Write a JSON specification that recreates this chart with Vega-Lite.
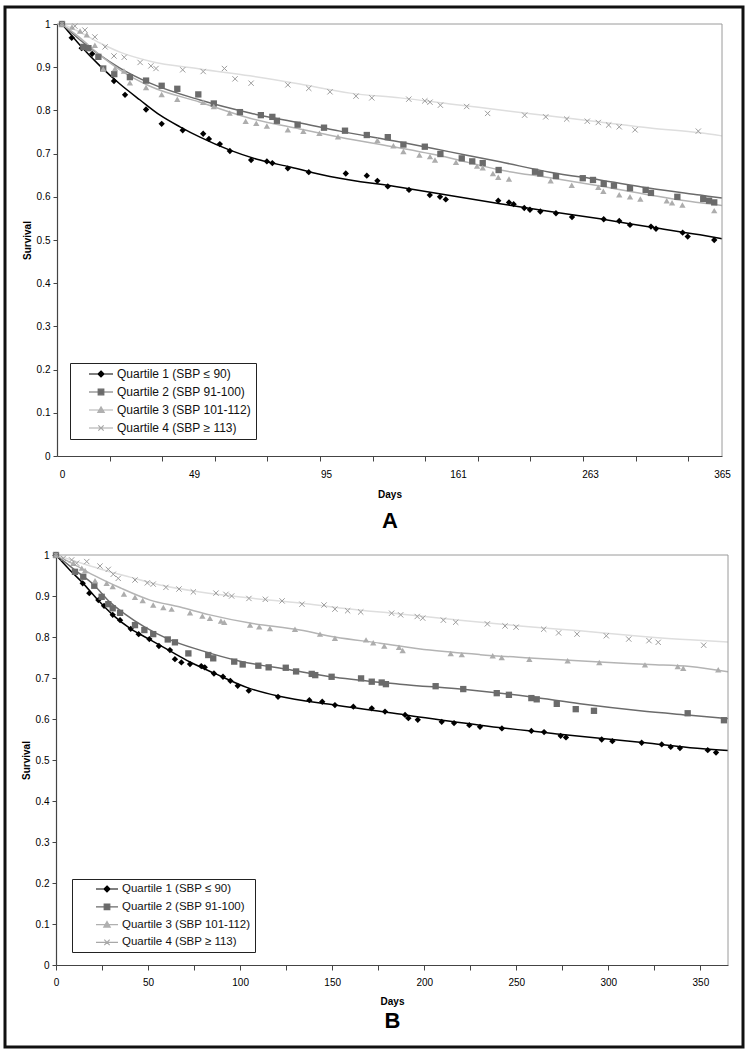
{
"$schema": "https://vega.github.io/schema/vega-lite/v6.json",
"width": 738, "height": 1040,
"autosize": {"type": "none"},
"padding": {"left": 5, "top": 7, "right": 5, "bottom": 3},
"background": "#ffffff",
"config": {
  "view": {"stroke": "#111111", "strokeWidth": 3},
  "font": "Liberation Sans",
  "axis": {"labelFont": "Liberation Sans", "labelFontSize": 10, "labelColor": "#000000", "titleFont": "Liberation Sans", "titleFontSize": 10, "titleFontWeight": "bold", "titleColor": "#000000", "domainColor": "#444444", "tickColor": "#444444", "domainWidth": 1.2, "grid": false, "labelFlush": false, "labelOverlap": false},
  "legend": {"labelFont": "Liberation Sans", "labelColor": "#111111"}
},
"datasets": {
"ptsA": [
{"q":"Q1","d":0,"s":1},{"q":"Q1","d":3.6,"s":0.968},{"q":"Q1","d":7.3,"s":0.944},{"q":"Q1","d":11.2,"s":0.931},{"q":"Q1","d":19.3,"s":0.868},{"q":"Q1","d":23.4,"s":0.836},{"q":"Q1","d":31.2,"s":0.802},{"q":"Q1","d":37.0,"s":0.769},{"q":"Q1","d":44.8,"s":0.754},{"q":"Q1","d":52.2,"s":0.746},{"q":"Q1","d":54.2,"s":0.734},{"q":"Q1","d":58.0,"s":0.722},{"q":"Q1","d":61.5,"s":0.706},{"q":"Q1","d":68.9,"s":0.685},{"q":"Q1","d":74.4,"s":0.682},{"q":"Q1","d":76.3,"s":0.678},{"q":"Q1","d":81.7,"s":0.666},{"q":"Q1","d":89.0,"s":0.657},{"q":"Q1","d":104.9,"s":0.654},{"q":"Q1","d":115.4,"s":0.649},{"q":"Q1","d":120.7,"s":0.637},{"q":"Q1","d":125.9,"s":0.624},{"q":"Q1","d":136.5,"s":0.616},{"q":"Q1","d":146.9,"s":0.604},{"q":"Q1","d":152.0,"s":0.600},{"q":"Q1","d":154.9,"s":0.594},{"q":"Q1","d":192.1,"s":0.591},{"q":"Q1","d":200.4,"s":0.587},{"q":"Q1","d":204.0,"s":0.583},{"q":"Q1","d":212.2,"s":0.574},{"q":"Q1","d":216.6,"s":0.570},{"q":"Q1","d":224.6,"s":0.566},{"q":"Q1","d":236.7,"s":0.562},{"q":"Q1","d":249.1,"s":0.553},{"q":"Q1","d":273.6,"s":0.548},{"q":"Q1","d":285.6,"s":0.544},{"q":"Q1","d":293.9,"s":0.535},{"q":"Q1","d":310.1,"s":0.531},{"q":"Q1","d":314.0,"s":0.526},{"q":"Q1","d":334.6,"s":0.517},{"q":"Q1","d":338.5,"s":0.508},{"q":"Q1","d":359.0,"s":0.500},
{"q":"Q2","d":0,"s":1},{"q":"Q2","d":7.9,"s":0.947},{"q":"Q2","d":9.8,"s":0.944},{"q":"Q2","d":13.5,"s":0.924},{"q":"Q2","d":15.3,"s":0.897},{"q":"Q2","d":19.4,"s":0.884},{"q":"Q2","d":25.2,"s":0.877},{"q":"Q2","d":31.2,"s":0.869},{"q":"Q2","d":37.0,"s":0.857},{"q":"Q2","d":42.8,"s":0.850},{"q":"Q2","d":50.5,"s":0.837},{"q":"Q2","d":55.9,"s":0.816},{"q":"Q2","d":65.0,"s":0.796},{"q":"Q2","d":72.3,"s":0.789},{"q":"Q2","d":76.3,"s":0.785},{"q":"Q2","d":77.9,"s":0.776},{"q":"Q2","d":85.1,"s":0.767},{"q":"Q2","d":94.3,"s":0.760},{"q":"Q2","d":104.5,"s":0.753},{"q":"Q2","d":115.4,"s":0.743},{"q":"Q2","d":125.9,"s":0.738},{"q":"Q2","d":133.7,"s":0.721},{"q":"Q2","d":144.4,"s":0.716},{"q":"Q2","d":152.2,"s":0.699},{"q":"Q2","d":163.9,"s":0.689},{"q":"Q2","d":172.0,"s":0.682},{"q":"Q2","d":180.1,"s":0.678},{"q":"Q2","d":192.4,"s":0.662},{"q":"Q2","d":220.5,"s":0.658},{"q":"Q2","d":224.6,"s":0.654},{"q":"Q2","d":236.7,"s":0.648},{"q":"Q2","d":257.4,"s":0.643},{"q":"Q2","d":265.3,"s":0.639},{"q":"Q2","d":273.6,"s":0.630},{"q":"Q2","d":281.5,"s":0.626},{"q":"Q2","d":293.9,"s":0.620},{"q":"Q2","d":306.0,"s":0.616},{"q":"Q2","d":310.1,"s":0.609},{"q":"Q2","d":330.5,"s":0.600},{"q":"Q2","d":350.5,"s":0.595},{"q":"Q2","d":355.0,"s":0.591},{"q":"Q2","d":359.0,"s":0.587},
{"q":"Q3","d":0,"s":1},{"q":"Q3","d":3.7,"s":0.993},{"q":"Q3","d":6.7,"s":0.984},{"q":"Q3","d":9.2,"s":0.975},{"q":"Q3","d":12.2,"s":0.951},{"q":"Q3","d":15.3,"s":0.896},{"q":"Q3","d":19.7,"s":0.897},{"q":"Q3","d":23.0,"s":0.891},{"q":"Q3","d":25.2,"s":0.864},{"q":"Q3","d":31.2,"s":0.853},{"q":"Q3","d":37.0,"s":0.837},{"q":"Q3","d":42.8,"s":0.826},{"q":"Q3","d":52.2,"s":0.819},{"q":"Q3","d":55.9,"s":0.809},{"q":"Q3","d":61.4,"s":0.794},{"q":"Q3","d":67.0,"s":0.775},{"q":"Q3","d":70.7,"s":0.770},{"q":"Q3","d":74.4,"s":0.764},{"q":"Q3","d":81.7,"s":0.755},{"q":"Q3","d":87.1,"s":0.752},{"q":"Q3","d":92.7,"s":0.747},{"q":"Q3","d":101.0,"s":0.739},{"q":"Q3","d":120.7,"s":0.731},{"q":"Q3","d":128.7,"s":0.718},{"q":"Q3","d":133.7,"s":0.705},{"q":"Q3","d":141.7,"s":0.697},{"q":"Q3","d":147.0,"s":0.693},{"q":"Q3","d":149.5,"s":0.685},{"q":"Q3","d":160.0,"s":0.680},{"q":"Q3","d":175.7,"s":0.671},{"q":"Q3","d":180.1,"s":0.667},{"q":"Q3","d":188.0,"s":0.654},{"q":"Q3","d":192.1,"s":0.645},{"q":"Q3","d":200.4,"s":0.641},{"q":"Q3","d":232.6,"s":0.637},{"q":"Q3","d":248.9,"s":0.627},{"q":"Q3","d":269.4,"s":0.622},{"q":"Q3","d":273.3,"s":0.613},{"q":"Q3","d":285.6,"s":0.605},{"q":"Q3","d":293.9,"s":0.600},{"q":"Q3","d":301.9,"s":0.595},{"q":"Q3","d":322.3,"s":0.591},{"q":"Q3","d":326.4,"s":0.586},{"q":"Q3","d":334.4,"s":0.581},{"q":"Q3","d":359.0,"s":0.568},
{"q":"Q4","d":0,"s":1},{"q":"Q4","d":4.8,"s":0.995},{"q":"Q4","d":8.5,"s":0.986},{"q":"Q4","d":12.2,"s":0.970},{"q":"Q4","d":16.0,"s":0.947},{"q":"Q4","d":19.3,"s":0.926},{"q":"Q4","d":23.1,"s":0.923},{"q":"Q4","d":29.0,"s":0.911},{"q":"Q4","d":33.0,"s":0.903},{"q":"Q4","d":34.9,"s":0.897},{"q":"Q4","d":44.8,"s":0.894},{"q":"Q4","d":52.2,"s":0.890},{"q":"Q4","d":59.6,"s":0.897},{"q":"Q4","d":63.3,"s":0.873},{"q":"Q4","d":68.9,"s":0.863},{"q":"Q4","d":81.7,"s":0.859},{"q":"Q4","d":89.0,"s":0.851},{"q":"Q4","d":97.0,"s":0.843},{"q":"Q4","d":110.0,"s":0.833},{"q":"Q4","d":117.9,"s":0.829},{"q":"Q4","d":136.4,"s":0.826},{"q":"Q4","d":144.4,"s":0.822},{"q":"Q4","d":147.0,"s":0.819},{"q":"Q4","d":152.2,"s":0.812},{"q":"Q4","d":167.7,"s":0.809},{"q":"Q4","d":183.9,"s":0.793},{"q":"Q4","d":212.5,"s":0.789},{"q":"Q4","d":228.8,"s":0.785},{"q":"Q4","d":245.0,"s":0.780},{"q":"Q4","d":260.9,"s":0.775},{"q":"Q4","d":269.4,"s":0.772},{"q":"Q4","d":277.4,"s":0.766},{"q":"Q4","d":285.6,"s":0.762},{"q":"Q4","d":297.8,"s":0.755},{"q":"Q4","d":346.7,"s":0.752}
],
"fitA": [
{"q":"Q1","d":0,"s":1},{"q":"Q1","d":6.7,"s":0.951},{"q":"Q1","d":14.1,"s":0.903},{"q":"Q1","d":21.5,"s":0.861},{"q":"Q1","d":29.0,"s":0.824},{"q":"Q1","d":36.4,"s":0.789},{"q":"Q1","d":43.8,"s":0.762},{"q":"Q1","d":51.1,"s":0.738},{"q":"Q1","d":61.5,"s":0.708},{"q":"Q1","d":72.0,"s":0.685},{"q":"Q1","d":82.5,"s":0.669},{"q":"Q1","d":97.0,"s":0.647},{"q":"Q1","d":132.0,"s":0.622},{"q":"Q1","d":157.0,"s":0.603},{"q":"Q1","d":193.5,"s":0.584},{"q":"Q1","d":232.1,"s":0.566},{"q":"Q1","d":270.7,"s":0.549},{"q":"Q1","d":309.4,"s":0.530},{"q":"Q1","d":348.0,"s":0.512},{"q":"Q1","d":365,"s":0.503},
{"q":"Q2","d":0,"s":1},{"q":"Q2","d":6.7,"s":0.963},{"q":"Q2","d":14.1,"s":0.928},{"q":"Q2","d":21.5,"s":0.898},{"q":"Q2","d":32.7,"s":0.863},{"q":"Q2","d":51.1,"s":0.824},{"q":"Q2","d":68.5,"s":0.794},{"q":"Q2","d":85.9,"s":0.771},{"q":"Q2","d":102.0,"s":0.752},{"q":"Q2","d":132.0,"s":0.727},{"q":"Q2","d":157.0,"s":0.704},{"q":"Q2","d":193.5,"s":0.681},{"q":"Q2","d":232.1,"s":0.657},{"q":"Q2","d":270.7,"s":0.639},{"q":"Q2","d":309.4,"s":0.620},{"q":"Q2","d":348.0,"s":0.604},{"q":"Q2","d":365,"s":0.597},
{"q":"Q3","d":0,"s":1},{"q":"Q3","d":6.7,"s":0.968},{"q":"Q3","d":14.1,"s":0.928},{"q":"Q3","d":21.5,"s":0.894},{"q":"Q3","d":32.7,"s":0.856},{"q":"Q3","d":51.1,"s":0.819},{"q":"Q3","d":68.5,"s":0.782},{"q":"Q3","d":85.9,"s":0.757},{"q":"Q3","d":102.0,"s":0.738},{"q":"Q3","d":132.0,"s":0.713},{"q":"Q3","d":157.0,"s":0.690},{"q":"Q3","d":193.5,"s":0.662},{"q":"Q3","d":232.1,"s":0.644},{"q":"Q3","d":270.7,"s":0.625},{"q":"Q3","d":309.4,"s":0.604},{"q":"Q3","d":348.0,"s":0.586},{"q":"Q3","d":365,"s":0.580},
{"q":"Q4","d":0,"s":1},{"q":"Q4","d":6.7,"s":0.981},{"q":"Q4","d":14.1,"s":0.956},{"q":"Q4","d":21.5,"s":0.935},{"q":"Q4","d":32.7,"s":0.914},{"q":"Q4","d":51.1,"s":0.896},{"q":"Q4","d":68.5,"s":0.880},{"q":"Q4","d":85.9,"s":0.861},{"q":"Q4","d":107.0,"s":0.840},{"q":"Q4","d":132.0,"s":0.829},{"q":"Q4","d":157.0,"s":0.815},{"q":"Q4","d":193.5,"s":0.801},{"q":"Q4","d":232.1,"s":0.787},{"q":"Q4","d":270.7,"s":0.773},{"q":"Q4","d":309.4,"s":0.759},{"q":"Q4","d":348.0,"s":0.748},{"q":"Q4","d":365,"s":0.741}
],
"ptsB": [
{"q":"Q1","d":0,"s":1},{"q":"Q1","d":14.5,"s":0.931},{"q":"Q1","d":18.1,"s":0.907},{"q":"Q1","d":23.0,"s":0.890},{"q":"Q1","d":26.1,"s":0.876},{"q":"Q1","d":30.8,"s":0.854},{"q":"Q1","d":34.8,"s":0.841},{"q":"Q1","d":40.6,"s":0.820},{"q":"Q1","d":44.9,"s":0.807},{"q":"Q1","d":50.7,"s":0.795},{"q":"Q1","d":55.9,"s":0.778},{"q":"Q1","d":61.9,"s":0.768},{"q":"Q1","d":64.6,"s":0.746},{"q":"Q1","d":68.1,"s":0.738},{"q":"Q1","d":72.8,"s":0.734},{"q":"Q1","d":78.9,"s":0.729},{"q":"Q1","d":80.8,"s":0.726},{"q":"Q1","d":85.8,"s":0.711},{"q":"Q1","d":90.7,"s":0.703},{"q":"Q1","d":94.7,"s":0.693},{"q":"Q1","d":98.7,"s":0.681},{"q":"Q1","d":104.7,"s":0.669},{"q":"Q1","d":120.6,"s":0.654},{"q":"Q1","d":137.6,"s":0.646},{"q":"Q1","d":144.6,"s":0.642},{"q":"Q1","d":151.5,"s":0.634},{"q":"Q1","d":161.5,"s":0.630},{"q":"Q1","d":171.5,"s":0.626},{"q":"Q1","d":178.7,"s":0.618},{"q":"Q1","d":189.6,"s":0.610},{"q":"Q1","d":191.4,"s":0.602},{"q":"Q1","d":196.5,"s":0.598},{"q":"Q1","d":209.5,"s":0.593},{"q":"Q1","d":216.2,"s":0.590},{"q":"Q1","d":224.5,"s":0.585},{"q":"Q1","d":230.3,"s":0.581},{"q":"Q1","d":242.2,"s":0.577},{"q":"Q1","d":258.2,"s":0.571},{"q":"Q1","d":265.1,"s":0.568},{"q":"Q1","d":274.1,"s":0.559},{"q":"Q1","d":277.0,"s":0.555},{"q":"Q1","d":296.4,"s":0.550},{"q":"Q1","d":302.2,"s":0.546},{"q":"Q1","d":318.1,"s":0.542},{"q":"Q1","d":329.0,"s":0.538},{"q":"Q1","d":333.9,"s":0.532},{"q":"Q1","d":338.9,"s":0.529},{"q":"Q1","d":354.0,"s":0.524},{"q":"Q1","d":358.5,"s":0.518},
{"q":"Q2","d":0,"s":1},{"q":"Q2","d":10.3,"s":0.959},{"q":"Q2","d":14.8,"s":0.947},{"q":"Q2","d":20.8,"s":0.925},{"q":"Q2","d":24.8,"s":0.898},{"q":"Q2","d":28.4,"s":0.880},{"q":"Q2","d":30.8,"s":0.870},{"q":"Q2","d":34.8,"s":0.859},{"q":"Q2","d":42.9,"s":0.829},{"q":"Q2","d":48.0,"s":0.817},{"q":"Q2","d":52.8,"s":0.807},{"q":"Q2","d":60.7,"s":0.794},{"q":"Q2","d":64.6,"s":0.787},{"q":"Q2","d":71.9,"s":0.760},{"q":"Q2","d":82.7,"s":0.756},{"q":"Q2","d":85.4,"s":0.748},{"q":"Q2","d":96.8,"s":0.740},{"q":"Q2","d":101.4,"s":0.733},{"q":"Q2","d":109.9,"s":0.730},{"q":"Q2","d":115.5,"s":0.726},{"q":"Q2","d":124.8,"s":0.725},{"q":"Q2","d":130.4,"s":0.716},{"q":"Q2","d":138.9,"s":0.710},{"q":"Q2","d":140.8,"s":0.707},{"q":"Q2","d":149.7,"s":0.703},{"q":"Q2","d":165.7,"s":0.699},{"q":"Q2","d":171.5,"s":0.691},{"q":"Q2","d":176.9,"s":0.689},{"q":"Q2","d":179.2,"s":0.685},{"q":"Q2","d":206.2,"s":0.680},{"q":"Q2","d":221.2,"s":0.673},{"q":"Q2","d":239.4,"s":0.663},{"q":"Q2","d":246.0,"s":0.659},{"q":"Q2","d":258.2,"s":0.651},{"q":"Q2","d":261.1,"s":0.648},{"q":"Q2","d":272.0,"s":0.637},{"q":"Q2","d":282.3,"s":0.624},{"q":"Q2","d":292.2,"s":0.620},{"q":"Q2","d":343.1,"s":0.614},{"q":"Q2","d":362.8,"s":0.597},
{"q":"Q3","d":0,"s":1},{"q":"Q3","d":9.4,"s":0.980},{"q":"Q3","d":14.0,"s":0.968},{"q":"Q3","d":15.8,"s":0.962},{"q":"Q3","d":21.2,"s":0.937},{"q":"Q3","d":27.5,"s":0.931},{"q":"Q3","d":30.8,"s":0.923},{"q":"Q3","d":36.9,"s":0.905},{"q":"Q3","d":42.9,"s":0.897},{"q":"Q3","d":47.1,"s":0.889},{"q":"Q3","d":52.8,"s":0.878},{"q":"Q3","d":58.3,"s":0.872},{"q":"Q3","d":62.8,"s":0.868},{"q":"Q3","d":72.8,"s":0.859},{"q":"Q3","d":79.5,"s":0.851},{"q":"Q3","d":83.6,"s":0.846},{"q":"Q3","d":89.6,"s":0.839},{"q":"Q3","d":91.4,"s":0.836},{"q":"Q3","d":105.4,"s":0.829},{"q":"Q3","d":110.4,"s":0.825},{"q":"Q3","d":116.2,"s":0.821},{"q":"Q3","d":129.8,"s":0.819},{"q":"Q3","d":143.4,"s":0.807},{"q":"Q3","d":151.5,"s":0.797},{"q":"Q3","d":168.4,"s":0.793},{"q":"Q3","d":172.3,"s":0.786},{"q":"Q3","d":178.3,"s":0.778},{"q":"Q3","d":186.3,"s":0.775},{"q":"Q3","d":188.3,"s":0.767},{"q":"Q3","d":214.4,"s":0.760},{"q":"Q3","d":220.4,"s":0.757},{"q":"Q3","d":237.2,"s":0.754},{"q":"Q3","d":242.1,"s":0.750},{"q":"Q3","d":257.1,"s":0.746},{"q":"Q3","d":277.9,"s":0.742},{"q":"Q3","d":295.1,"s":0.738},{"q":"Q3","d":319.9,"s":0.732},{"q":"Q3","d":337.7,"s":0.728},{"q":"Q3","d":340.7,"s":0.724},{"q":"Q3","d":359.7,"s":0.720},
{"q":"Q4","d":0,"s":1},{"q":"Q4","d":4.0,"s":0.992},{"q":"Q4","d":8.5,"s":0.988},{"q":"Q4","d":11.2,"s":0.980},{"q":"Q4","d":16.7,"s":0.984},{"q":"Q4","d":23.9,"s":0.973},{"q":"Q4","d":28.4,"s":0.965},{"q":"Q4","d":31.1,"s":0.953},{"q":"Q4","d":33.8,"s":0.943},{"q":"Q4","d":42.9,"s":0.939},{"q":"Q4","d":49.6,"s":0.932},{"q":"Q4","d":52.8,"s":0.929},{"q":"Q4","d":59.7,"s":0.921},{"q":"Q4","d":66.8,"s":0.917},{"q":"Q4","d":74.6,"s":0.910},{"q":"Q4","d":86.9,"s":0.907},{"q":"Q4","d":92.3,"s":0.904},{"q":"Q4","d":95.4,"s":0.900},{"q":"Q4","d":104.8,"s":0.894},{"q":"Q4","d":113.7,"s":0.892},{"q":"Q4","d":122.8,"s":0.888},{"q":"Q4","d":133.6,"s":0.880},{"q":"Q4","d":145.6,"s":0.878},{"q":"Q4","d":151.5,"s":0.868},{"q":"Q4","d":158.4,"s":0.864},{"q":"Q4","d":165.5,"s":0.861},{"q":"Q4","d":182.3,"s":0.858},{"q":"Q4","d":187.2,"s":0.854},{"q":"Q4","d":196.2,"s":0.850},{"q":"Q4","d":199.2,"s":0.846},{"q":"Q4","d":210.4,"s":0.841},{"q":"Q4","d":217.1,"s":0.836},{"q":"Q4","d":234.3,"s":0.832},{"q":"Q4","d":243.9,"s":0.827},{"q":"Q4","d":249.9,"s":0.824},{"q":"Q4","d":264.9,"s":0.819},{"q":"Q4","d":273.0,"s":0.810},{"q":"Q4","d":283.0,"s":0.807},{"q":"Q4","d":298.9,"s":0.803},{"q":"Q4","d":311.1,"s":0.795},{"q":"Q4","d":322.1,"s":0.791},{"q":"Q4","d":327.1,"s":0.787},{"q":"Q4","d":351.8,"s":0.780}
],
"fitB": [
{"q":"Q1","d":0,"s":1},{"q":"Q1","d":7.6,"s":0.963},{"q":"Q1","d":14.5,"s":0.932},{"q":"Q1","d":22.8,"s":0.890},{"q":"Q1","d":30.8,"s":0.854},{"q":"Q1","d":40.6,"s":0.820},{"q":"Q1","d":50.5,"s":0.795},{"q":"Q1","d":61.9,"s":0.766},{"q":"Q1","d":72.8,"s":0.739},{"q":"Q1","d":85.8,"s":0.712},{"q":"Q1","d":104.3,"s":0.676},{"q":"Q1","d":120.6,"s":0.656},{"q":"Q1","d":151.5,"s":0.634},{"q":"Q1","d":189.6,"s":0.610},{"q":"Q1","d":230.3,"s":0.585},{"q":"Q1","d":273.7,"s":0.563},{"q":"Q1","d":317.2,"s":0.543},{"q":"Q1","d":344.4,"s":0.530},{"q":"Q1","d":365,"s":0.523},
{"q":"Q2","d":0,"s":1},{"q":"Q2","d":10.3,"s":0.963},{"q":"Q2","d":20.6,"s":0.927},{"q":"Q2","d":29.3,"s":0.885},{"q":"Q2","d":37.5,"s":0.856},{"q":"Q2","d":48.3,"s":0.824},{"q":"Q2","d":61.9,"s":0.793},{"q":"Q2","d":78.2,"s":0.768},{"q":"Q2","d":99.9,"s":0.741},{"q":"Q2","d":127.1,"s":0.720},{"q":"Q2","d":151.5,"s":0.702},{"q":"Q2","d":186.8,"s":0.685},{"q":"Q2","d":224.9,"s":0.671},{"q":"Q2","d":257.5,"s":0.654},{"q":"Q2","d":284.6,"s":0.637},{"q":"Q2","d":317.2,"s":0.620},{"q":"Q2","d":344.4,"s":0.609},{"q":"Q2","d":365,"s":0.601},
{"q":"Q3","d":0,"s":1},{"q":"Q3","d":10.3,"s":0.976},{"q":"Q3","d":21.2,"s":0.949},{"q":"Q3","d":34.8,"s":0.920},{"q":"Q3","d":51.1,"s":0.890},{"q":"Q3","d":67.4,"s":0.873},{"q":"Q3","d":83.6,"s":0.854},{"q":"Q3","d":105.4,"s":0.834},{"q":"Q3","d":132.5,"s":0.817},{"q":"Q3","d":151.5,"s":0.800},{"q":"Q3","d":176.0,"s":0.785},{"q":"Q3","d":203.1,"s":0.768},{"q":"Q3","d":230.3,"s":0.757},{"q":"Q3","d":257.5,"s":0.749},{"q":"Q3","d":295.5,"s":0.739},{"q":"Q3","d":322.6,"s":0.733},{"q":"Q3","d":344.4,"s":0.728},{"q":"Q3","d":365,"s":0.715},
{"q":"Q4","d":0,"s":1},{"q":"Q4","d":10.3,"s":0.985},{"q":"Q4","d":23.9,"s":0.966},{"q":"Q4","d":40.2,"s":0.946},{"q":"Q4","d":56.5,"s":0.927},{"q":"Q4","d":78.2,"s":0.910},{"q":"Q4","d":105.4,"s":0.895},{"q":"Q4","d":132.5,"s":0.883},{"q":"Q4","d":154.3,"s":0.871},{"q":"Q4","d":186.8,"s":0.856},{"q":"Q4","d":219.4,"s":0.841},{"q":"Q4","d":252.0,"s":0.827},{"q":"Q4","d":284.6,"s":0.815},{"q":"Q4","d":317.2,"s":0.802},{"q":"Q4","d":344.4,"s":0.793},{"q":"Q4","d":365,"s":0.788}
]
},
"layer": [
{
  "layer": [
    {
      "data": {"name": "fitA"},
      "mark": {"type": "line", "interpolate": "monotone", "strokeWidth": 1.5},
      "encoding": {
        "x": {"field": "d", "type": "quantitative", "scale": {"domain": [-1.9, 0, 49, 95, 161, 263, 365], "range": [52, 57, 189, 321, 453, 585, 717], "nice": false, "zero": false},
              "axis": {"orient": "bottom", "offset": -591, "values": [0, 49, 95, 161, 263, 365], "ticks": false, "tickSize": 0, "domain": true, "labelPadding": 13, "title": "Days", "titlePadding": 10}},
        "y": {"field": "s", "type": "quantitative", "scale": {"domain": [0, 1], "range": [449, 17], "nice": false, "zero": false},
              "axis": {"orient": "left", "offset": -52, "values": [0, 0.1, 0.2, 0.3, 0.4, 0.5, 0.6, 0.7, 0.8, 0.9, 1], "format": ".1~f", "tickSize": 4, "labelPadding": 3, "title": "Survival", "titlePadding": 4}},
        "color": {"field": "q", "type": "nominal", "scale": {"domain": ["Q4", "Q3", "Q2", "Q1"], "range": ["#dedede", "#b4b4b4", "#6b6b6b", "#000000"]}, "legend": null}
      }
    },
    {
      "data": {"values": [{}]},
      "mark": {"type": "rule", "color": "#9a9a9a", "strokeWidth": 1},
      "encoding": {
        "x": {"datum": -1.9, "type": "quantitative", "axis": {"orient": "bottom", "offset": -591, "values": [17.7, 37.2, 56.2, 74.6, 92.9, 118.3, 144.6, 176.3, 216.9, 257.6, 298.2, 338.9], "labels": false, "domain": false, "ticks": true, "tickSize": 5, "title": "A", "titleFontSize": 22, "titlePadding": 49}},
        "x2": {"datum": 365},
        "y": {"datum": 1, "type": "quantitative"}
      }
    },
    {
      "data": {"values": [{}]},
      "mark": {"type": "rule", "color": "#9a9a9a", "strokeWidth": 1},
      "encoding": {
        "x": {"datum": 365, "type": "quantitative", "axis": null},
        "y": {"datum": 0, "type": "quantitative"},
        "y2": {"datum": 1}
      }
    },
    {
      "data": {"name": "ptsA"},
      "transform": [{"filter": "datum.q === 'Q1'"}],
      "mark": {"type": "point", "shape": "diamond", "filled": true, "size": 40, "opacity": 1, "color": "#000000"},
      "encoding": {"x": {"field": "d", "type": "quantitative", "axis": null}, "y": {"field": "s", "type": "quantitative"}}
    },
    {
      "data": {"name": "ptsA"},
      "transform": [{"filter": "datum.q === 'Q2'"}],
      "mark": {"type": "point", "shape": "square", "filled": true, "size": 40, "opacity": 1, "color": "#6b6b6b"},
      "encoding": {"x": {"field": "d", "type": "quantitative", "axis": null}, "y": {"field": "s", "type": "quantitative"}}
    },
    {
      "data": {"name": "ptsA"},
      "transform": [{"filter": "datum.q === 'Q3'"}],
      "mark": {"type": "point", "shape": "triangle-up", "filled": true, "size": 40, "opacity": 1, "color": "#adadad"},
      "encoding": {"x": {"field": "d", "type": "quantitative", "axis": null}, "y": {"field": "s", "type": "quantitative"}}
    },
    {
      "data": {"name": "ptsA"},
      "transform": [{"filter": "datum.q === 'Q4'"}],
      "mark": {"type": "point", "shape": "M-1,-1L1,1M-1,1L1,-1", "filled": false, "size": 28, "strokeWidth": 1, "opacity": 1, "color": "#9c9c9c"},
      "encoding": {"x": {"field": "d", "type": "quantitative", "axis": null}, "y": {"field": "s", "type": "quantitative"}}
    },
    {
      "data": {"name": "fitA"},
      "transform": [{"filter": "datum.d < 0"}],
      "mark": {"type": "point", "filled": true, "strokeWidth": 1.2, "opacity": 1},
      "encoding": {
        "x": {"field": "d", "type": "quantitative", "axis": null},
        "y": {"field": "s", "type": "quantitative"},
        "fill": {"field": "q", "type": "nominal", "scale": {"domain": ["Q1", "Q2", "Q3", "Q4"], "range": ["#000000", "#6b6b6b", "#b0b0b0", "#a8a8a8"]},
          "legend": {"orient": "none", "legendX": 65, "legendY": 356, "title": null, "padding": 5, "strokeColor": "#222222", "fillColor": "#ffffff",
            "labelFontSize": 12, "labelColor": "#111111",
            "labelExpr": "datum.value === 'Q1' ? 'Quartile 1 (SBP ≤ 90)' : datum.value === 'Q2' ? 'Quartile 2 (SBP 91-100)' : datum.value === 'Q3' ? 'Quartile 3 (SBP 101-112)' : 'Quartile 4 (SBP ≥ 113)'",
            "symbolSize": 100, "symbolOffset": 13, "labelOffset": 17, "rowPadding": 6, "symbolStrokeWidth": 1.2}},
        "stroke": {"field": "q", "type": "nominal", "scale": {"domain": ["Q1", "Q2", "Q3", "Q4"], "range": ["#000000", "#6b6b6b", "#b0b0b0", "#a8a8a8"]}},
        "shape": {"field": "q", "type": "nominal", "scale": {"domain": ["Q1", "Q2", "Q3", "Q4"], "range": ["M-1,0H3.8M1.4,-0.6L2,0L1.4,0.6L0.8,0Z", "M-1,0H3.8M0.84,-0.56H1.96V0.56H0.84Z", "M-1,0H3.8M1.4,-0.62L2.04,0.5H0.76Z", "M-1,0H3.8M0.86,-0.54L1.94,0.54M0.86,0.54L1.94,-0.54"]}}
      }
    }
  ],
  "resolve": {"axis": {"x": "independent"}}
},
{
  "layer": [
    {
      "data": {"name": "fitB"},
      "mark": {"type": "line", "interpolate": "monotone", "strokeWidth": 1.5},
      "encoding": {
        "x": {"field": "d", "type": "quantitative", "scale": {"domain": [0, 365], "range": [51, 723], "nice": false, "zero": false},
              "axis": {"orient": "bottom", "offset": -82, "values": [0, 25, 50, 75, 100, 125, 150, 175, 200, 225, 250, 275, 300, 325, 350], "labelExpr": "datum.value % 50 === 0 ? datum.label : ''", "tickSize": 5, "labelPadding": 7, "title": "Days", "titlePadding": 9}},
        "y": {"field": "s", "type": "quantitative", "scale": {"domain": [0, 1], "range": [958, 548], "nice": false, "zero": false},
              "axis": {"orient": "left", "offset": -51, "values": [0, 0.1, 0.2, 0.3, 0.4, 0.5, 0.6, 0.7, 0.8, 0.9, 1], "format": ".1~f", "tickSize": 4, "labelPadding": 3, "title": "Survival", "titlePadding": 4}},
        "color": {"field": "q", "type": "nominal", "scale": {"domain": ["Q4", "Q3", "Q2", "Q1"], "range": ["#dedede", "#b4b4b4", "#6b6b6b", "#000000"]}, "legend": null}
      }
    },
    {
      "data": {"values": [{}]},
      "mark": {"type": "rule", "color": "#9a9a9a", "strokeWidth": 1},
      "encoding": {
        "x": {"datum": 0, "type": "quantitative", "axis": {"orient": "bottom", "offset": -82, "values": [0], "labels": false, "domain": false, "ticks": false, "title": "B", "titleFontSize": 22, "titlePadding": 45}},
        "x2": {"datum": 365},
        "y": {"datum": 1, "type": "quantitative"}
      }
    },
    {
      "data": {"values": [{}]},
      "mark": {"type": "rule", "color": "#9a9a9a", "strokeWidth": 1},
      "encoding": {
        "x": {"datum": 365, "type": "quantitative", "axis": null},
        "y": {"datum": 0, "type": "quantitative"},
        "y2": {"datum": 1}
      }
    },
    {
      "data": {"name": "ptsB"},
      "transform": [{"filter": "datum.q === 'Q1'"}],
      "mark": {"type": "point", "shape": "diamond", "filled": true, "size": 40, "opacity": 1, "color": "#000000"},
      "encoding": {"x": {"field": "d", "type": "quantitative", "axis": null}, "y": {"field": "s", "type": "quantitative"}}
    },
    {
      "data": {"name": "ptsB"},
      "transform": [{"filter": "datum.q === 'Q2'"}],
      "mark": {"type": "point", "shape": "square", "filled": true, "size": 40, "opacity": 1, "color": "#6b6b6b"},
      "encoding": {"x": {"field": "d", "type": "quantitative", "axis": null}, "y": {"field": "s", "type": "quantitative"}}
    },
    {
      "data": {"name": "ptsB"},
      "transform": [{"filter": "datum.q === 'Q3'"}],
      "mark": {"type": "point", "shape": "triangle-up", "filled": true, "size": 40, "opacity": 1, "color": "#adadad"},
      "encoding": {"x": {"field": "d", "type": "quantitative", "axis": null}, "y": {"field": "s", "type": "quantitative"}}
    },
    {
      "data": {"name": "ptsB"},
      "transform": [{"filter": "datum.q === 'Q4'"}],
      "mark": {"type": "point", "shape": "M-1,-1L1,1M-1,1L1,-1", "filled": false, "size": 28, "strokeWidth": 1, "opacity": 1, "color": "#9c9c9c"},
      "encoding": {"x": {"field": "d", "type": "quantitative", "axis": null}, "y": {"field": "s", "type": "quantitative"}}
    },
    {
      "data": {"name": "fitB"},
      "transform": [{"filter": "datum.d < 0"}],
      "mark": {"type": "point", "filled": true, "strokeWidth": 1.2, "opacity": 1},
      "encoding": {
        "x": {"field": "d", "type": "quantitative", "axis": null},
        "y": {"field": "s", "type": "quantitative"},
        "fill": {"field": "q", "type": "nominal", "scale": {"domain": ["Q1", "Q2", "Q3", "Q4"], "range": ["#000000", "#6b6b6b", "#b0b0b0", "#a8a8a8"]},
          "legend": {"orient": "none", "legendX": 67, "legendY": 872, "title": null, "padding": 4, "strokeColor": "#222222", "fillColor": "#ffffff",
            "labelFontSize": 11.5, "labelColor": "#111111",
            "labelExpr": "datum.value === 'Q1' ? 'Quartile 1 (SBP ≤ 90)' : datum.value === 'Q2' ? 'Quartile 2 (SBP 91-100)' : datum.value === 'Q3' ? 'Quartile 3 (SBP 101-112)' : 'Quartile 4 (SBP ≥ 113)'",
            "symbolSize": 100, "symbolOffset": 19, "labelOffset": 15, "rowPadding": 5.8, "symbolStrokeWidth": 1.2}},
        "stroke": {"field": "q", "type": "nominal", "scale": {"domain": ["Q1", "Q2", "Q3", "Q4"], "range": ["#000000", "#6b6b6b", "#b0b0b0", "#a8a8a8"]}},
        "shape": {"field": "q", "type": "nominal", "scale": {"domain": ["Q1", "Q2", "Q3", "Q4"], "range": ["M-1,0H3.4M1.2,-0.6L1.8,0L1.2,0.6L0.6,0Z", "M-1,0H3.4M0.64,-0.56H1.76V0.56H0.64Z", "M-1,0H3.4M1.2,-0.62L1.84,0.5H0.56Z", "M-1,0H3.4M0.66,-0.54L1.74,0.54M0.66,0.54L1.74,-0.54"]}}
      }
    }
  ],
  "resolve": {"axis": {"x": "independent"}}
}
],
"resolve": {
  "scale": {"x": "independent", "y": "independent", "color": "independent", "fill": "independent", "stroke": "independent", "shape": "independent"},
  "axis": {"x": "independent", "y": "independent"},
  "legend": {"fill": "independent", "stroke": "independent", "shape": "independent"}
}
}
